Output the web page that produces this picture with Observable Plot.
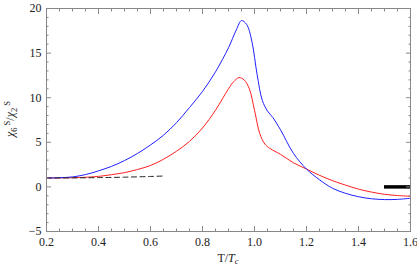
<!DOCTYPE html>
<html>
<head>
<meta charset="utf-8">
<script src="https://cdn.jsdelivr.net/npm/d3@7"></script>
<script src="https://cdn.jsdelivr.net/npm/@observablehq/plot@0.6"></script>
<style>
  html, body { margin: 0; padding: 0; background: #fff; }
  #chart svg { display: block; font-family: 'Liberation Serif', 'DejaVu Serif', serif !important; font-size: 12px !important; background: #fff; }
  #chart svg text { font-family: 'Liberation Serif', 'DejaVu Serif', serif !important; }
</style>
</head>
<body>
<div id="chart"></div>
<script>
// ---- data ----
const blueT = [0.2,0.25,0.3,0.35,0.4,0.45,0.5,0.55,0.6,0.65,0.7,0.75,0.8,0.85,0.9,0.93,0.95,0.97,0.99,1.01,1.03,1.05,1.07,1.1,1.15,1.2,1.25,1.3,1.35,1.4,1.45,1.5,1.55,1.6];
const blueV = [1.0,1.03,1.12,1.38,1.8,2.3,2.95,3.75,4.7,5.8,7.2,8.9,10.7,12.9,15.6,17.6,18.65,18.2,16.3,12.6,9.7,8.5,7.8,6.4,3.75,2.0,0.8,-0.15,-0.72,-1.1,-1.33,-1.42,-1.4,-1.27];
const redT = [0.2,0.3,0.35,0.4,0.45,0.5,0.55,0.6,0.65,0.7,0.75,0.8,0.85,0.9,0.92,0.94,0.96,0.98,1.0,1.02,1.04,1.06,1.1,1.15,1.2,1.25,1.3,1.35,1.4,1.45,1.5,1.55,1.6];
const redV = [1.0,1.03,1.08,1.18,1.37,1.6,1.95,2.4,3.1,4.0,5.1,6.6,8.6,11.0,11.8,12.25,12.0,11.0,8.6,6.0,4.8,4.3,3.65,2.7,2.0,1.3,0.7,0.2,-0.25,-0.58,-0.83,-0.97,-1.05];
const dashT = [0.2,0.3,0.4,0.5,0.6,0.65];
const dashV = [1.0,1.01,1.04,1.09,1.17,1.22];
const barT = [1.5,1.6];
const barV = 0;
const xMajor = [0.2,0.4,0.6,0.8,1.0,1.2,1.4,1.6];
const yMajor = [-5,0,5,10,15,20];

const xMinor = d3.range(0.2, 1.6001, 0.05).map(v => +v.toFixed(2)).filter(v => !xMajor.some(m => Math.abs(m - v) < 1e-6));
const yMinor = d3.range(-5, 20.001, 1).filter(v => !yMajor.includes(v));

const blue = blueT.map((t, i) => ({t, v: blueV[i]}));
const red = redT.map((t, i) => ({t, v: redV[i]}));
const dash = dashT.map((t, i) => ({t, v: dashV[i]}));

const frameColor = "#888";
const fam = "'Liberation Serif', 'DejaVu Serif', serif";
const none = () => "";

const chart = Plot.plot({
  width: 417,
  height: 271,
  marginLeft: 46,
  marginRight: 7,
  marginTop: 8,
  marginBottom: 40,
  style: {fontFamily: fam, fontSize: "12px", color: "#222", background: "#fff"},
  x: {domain: [0.2, 1.6]},
  y: {domain: [-5, 20]},
  marks: [
    Plot.line(red, {x: "t", y: "v", stroke: "#ff2020", strokeWidth: 1, curve: "catmull-rom"}),
    Plot.line(blue, {x: "t", y: "v", stroke: "#2020ff", strokeWidth: 1, curve: "catmull-rom"}),
    Plot.line(dash, {x: "t", y: "v", stroke: "#222", strokeWidth: 1, strokeDasharray: "5,3.5", curve: "catmull-rom"}),
    Plot.ruleY([barV], {x1: barT[0], x2: barT[1], stroke: "#000", strokeWidth: 3.5}),
    Plot.frame({stroke: frameColor, strokeWidth: 1}),
    // major ticks (inward)
    Plot.axisX(xMajor, {anchor: "bottom", tickSize: -5, tickPadding: 11, stroke: frameColor, fill: "#222", fontSize: 12, tickFormat: d => d.toFixed(1), label: null}),
    Plot.axisX(xMajor, {anchor: "top", tickSize: -5, stroke: frameColor, tickFormat: none, label: null}),
    Plot.axisY(yMajor, {anchor: "left", tickSize: -5, tickPadding: 10, stroke: frameColor, fill: "#222", fontSize: 12, tickFormat: d => d < 0 ? "\u2212" + Math.abs(d) : String(d), label: null}),
    Plot.axisY(yMajor, {anchor: "right", tickSize: -5, stroke: frameColor, tickFormat: none, label: null}),
    // minor ticks
    Plot.axisX(xMinor, {anchor: "bottom", tickSize: -2.5, stroke: frameColor, tickFormat: none, label: null}),
    Plot.axisX(xMinor, {anchor: "top", tickSize: -2.5, stroke: frameColor, tickFormat: none, label: null}),
    Plot.axisY(yMinor, {anchor: "left", tickSize: -2.5, stroke: frameColor, tickFormat: none, label: null}),
    Plot.axisY(yMinor, {anchor: "right", tickSize: -2.5, stroke: frameColor, tickFormat: none, label: null})
  ]
});

document.getElementById("chart").appendChild(chart);

// axis titles with sub/superscripts (real text)
const svg = d3.select(chart);
const xl = svg.append("text")
  .attr("x", 228).attr("y", 262)
  .attr("text-anchor", "middle")
  .attr("font-family", fam).attr("font-size", 12).attr("fill", "#222");
xl.append("tspan").text("T/");
xl.append("tspan").attr("font-style", "italic").text("T");
xl.append("tspan").attr("font-style", "italic").attr("font-size", 8.5).attr("dy", 2).text("c");

const yl = svg.append("text")
  .attr("transform", "translate(14,119) rotate(-90)")
  .attr("text-anchor", "middle")
  .attr("font-family", fam).attr("font-size", 12).attr("fill", "#222");
yl.append("tspan").attr("font-style", "italic").text("\u03C7");
yl.append("tspan").attr("font-size", 8.5).attr("dy", 2.5).text("6");
yl.append("tspan").attr("font-size", 8.5).attr("dy", -7).text(" S");
yl.append("tspan").attr("dy", 4.5).text("/");
yl.append("tspan").attr("font-style", "italic").text("\u03C7");
yl.append("tspan").attr("font-size", 8.5).attr("dy", 2.5).text("2");
yl.append("tspan").attr("font-size", 8.5).attr("dy", -7).text(" S");
</script>
</body>
</html>
